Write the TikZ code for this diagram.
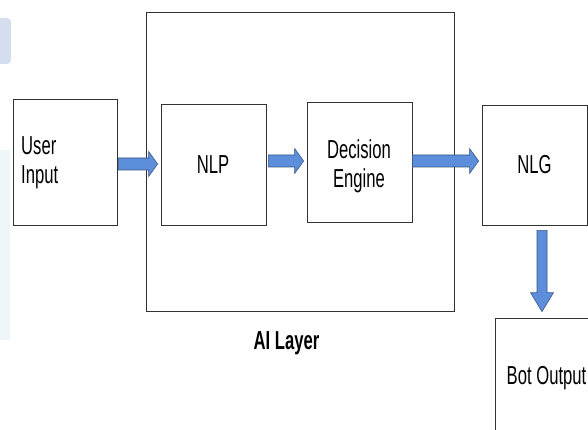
\documentclass[tikz,border=0pt]{standalone}
\usepackage{fontspec}
\setmainfont{Liberation Sans}[FakeStretch=0.64]
\usetikzlibrary{calc}
\definecolor{arrowfill}{RGB}{92,142,220}
\definecolor{arrowline}{RGB}{58,84,130}
\definecolor{boxline}{RGB}{50,50,50}
\definecolor{haze}{RGB}{212,222,238}
\definecolor{haze2}{RGB}{238,246,250}
\newcommand\harrow[4]{% from, to, y centre, start gap
  \path[blockarrow] let \p1=(#1.east), \p2=(#2.west), \p3=(0,#3) in
    (\x1+#4,\y3+6pt) -- (\x2-12pt,\y3+6pt) -- (\x2-12pt,\y3+12.5pt) --
    (\x2-3pt,\y3) -- (\x2-12pt,\y3-12.5pt) -- (\x2-12pt,\y3-6pt) --
    (\x1+#4,\y3-6pt) -- cycle;}
\newcommand\varrow[3]{% from, to, x centre
  \path[blockarrow] let \p1=(#1.south), \p2=(#2.north), \p3=(#3,0) in
    (\x3-5pt,\y1-5pt) -- (\x3-5pt,\y2+25pt) -- (\x3-11.5pt,\y2+25pt) --
    (\x3,\y2+6pt) -- (\x3+11.5pt,\y2+25pt) -- (\x3+5pt,\y2+25pt) --
    (\x3+5pt,\y1-5pt) -- cycle;}
\begin{document}
\begin{tikzpicture}[x=1pt,y=-1pt,
  box/.style={draw=boxline,line width=0.8pt,fill=white,inner sep=0pt},
  lbl/.style={inner sep=0pt,font=\fontsize{26}{29}\selectfont,text=black},
  blockarrow/.style={fill=arrowfill,draw=arrowline,line width=0.6pt}]
\clip (0,0) rectangle (588,430);
\fill[white] (0,0) rectangle (588,430);
% faint background artefact at left edge
\fill[haze2] (-4,150) rectangle (10,340);
\fill[haze,rounded corners=4pt] (-4,18) rectangle (11,64);
% boxes
\node[box,minimum width=104pt,minimum height=126pt] (ui) at (65,162) {};
\node[box,minimum width=308pt,minimum height=299pt] (ai) at (300,161.5) {};
\node[box,minimum width=105pt,minimum height=121pt] (nlp) at (213.5,164.5) {};
\node[box,minimum width=105pt,minimum height=120pt] (de) at (359.5,162) {};
\node[box,minimum width=105pt,minimum height=120pt] (nlg) at (534.5,165) {};
\node[box,minimum width=110pt,minimum height=130pt] (bot) at (550,383) {};
% texts
\node[lbl,align=left,anchor=west] (uit) at (21,162.4) {User\\Input};
\node[lbl] (nlpt) at (213,165) {NLP};
\node[lbl,align=center] (det) at (359,165.9) {Decision\\Engine};
\node[lbl] (nlgt) at (534.5,165) {NLG};
\node[lbl,font=\fontsize{26}{29}\selectfont\bfseries] (ait) at (286.5,343.4) {AI Layer};
\node[lbl] (bott) at (546.5,378.4) {Bot Output};
% block arrows
\harrow{ui}{nlp}{164}{1pt}
\harrow{nlp}{de}{161}{2pt}
\harrow{de}{nlg}{161}{0pt}
\varrow{nlg}{bot}{542}
\end{tikzpicture}
\end{document}
